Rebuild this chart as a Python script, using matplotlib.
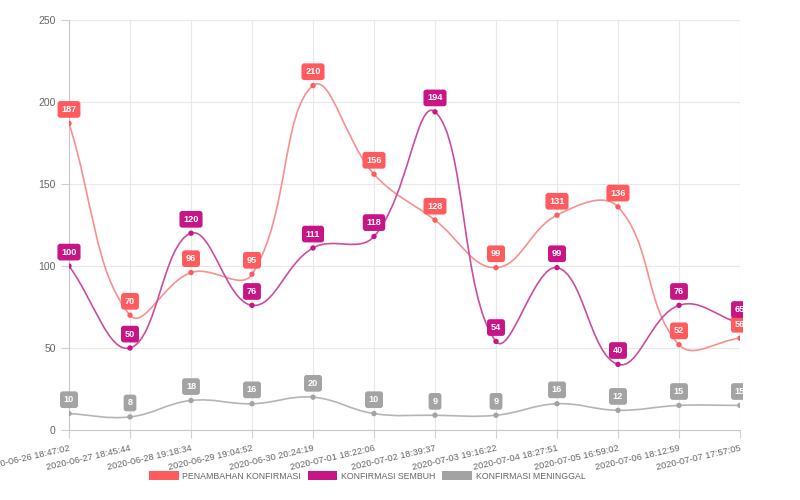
import numpy as np
import matplotlib
matplotlib.use("Agg")
import matplotlib.pyplot as plt
from matplotlib.path import Path
from matplotlib.patches import PathPatch, Patch, Rectangle

plt.rcParams['font.family'] = ['Liberation Sans', 'DejaVu Sans']

# Data
dates = ["2020-06-26 18:47:02", "2020-06-27 18:45:44", "2020-06-28 19:18:34",
         "2020-06-29 19:04:52", "2020-06-30 20:24:19", "2020-07-01 18:22:06",
         "2020-07-02 18:39:37", "2020-07-03 19:16:22", "2020-07-04 18:27:51",
         "2020-07-05 16:59:02", "2020-07-06 18:12:59", "2020-07-07 17:57:05"]
penambahan = [187, 70, 96, 95, 210, 156, 128, 99, 131, 136, 52, 56]
sembuh = [100, 50, 120, 76, 111, 118, 194, 54, 99, 40, 76, 65]
meninggal = [10, 8, 18, 16, 20, 10, 9, 9, 16, 12, 15, 15]

series = [
    ("PENAMBAHAN KONFIRMASI", penambahan, "#ff5a5e", "#f8908f"),
    ("KONFIRMASI SEMBUH", sembuh, "#c71585", "#cc4d9e"),
    ("KONFIRMASI MENINGGAL", meninggal, "#a3a3a3", "#b5b5b5"),
]

fig = plt.figure(figsize=(8, 5), dpi=100)
ax = fig.add_axes([69 / 800, 70 / 500, 671 / 800, 410 / 500])

x = np.arange(len(dates))
ax.set_xlim(0, len(dates) - 1)
ax.set_ylim(0, 250)

# pixel scale used for Chart.js-like spline tension
sx = 671 / (len(dates) - 1)
sy = 410 / 250


def spline_path(xs, ys, t=0.4):
    px = np.array(xs, float) * sx
    py = np.array(ys, float) * sy
    n = len(px)
    cps = []
    for i in range(n):
        p0 = (px[max(i - 1, 0)], py[max(i - 1, 0)])
        p1 = (px[i], py[i])
        p2 = (px[min(i + 1, n - 1)], py[min(i + 1, n - 1)])
        d01 = np.hypot(p1[0] - p0[0], p1[1] - p0[1])
        d12 = np.hypot(p2[0] - p1[0], p2[1] - p1[1])
        tot = d01 + d12
        s01 = d01 / tot if tot else 0
        s12 = d12 / tot if tot else 0
        fa, fb = t * s01, t * s12
        c1 = (p1[0] - fa * (p2[0] - p0[0]), p1[1] - fa * (p2[1] - p0[1]))
        c2 = (p1[0] + fb * (p2[0] - p0[0]), p1[1] + fb * (p2[1] - p0[1]))
        cps.append((c1, c2))
    verts = [(px[0], py[0])]
    codes = [Path.MOVETO]
    for i in range(1, n):
        a = cps[i - 1][1]
        b = cps[i][0]
        verts += [a, b, (px[i], py[i])]
        codes += [Path.CURVE4] * 3
    verts = [(vx / sx, min(max(vy, 0), 250 * sy) / sy) for vx, vy in verts]
    return Path(verts, codes)


for name, vals, col, lcol in series:
    ax.add_patch(PathPatch(spline_path(x, vals), fill=False, edgecolor=lcol, lw=1.2, zorder=3))
    ax.scatter(x, vals, s=15, color=col, zorder=4, edgecolors="none")

# clip labels only at the right edge (like the chart canvas)
clip = Rectangle((0, 0), 743 / 800, 1, transform=fig.transFigure, visible=False)
fig.add_artist(clip)

for name, vals, col, lcol in series:
    for xi, v in zip(x, vals):
        t = ax.annotate(str(v), (xi, v), xytext=(0, 10), textcoords="offset points",
                        ha="center", va="center", color="white", fontsize=6.6,
                        fontweight="bold", zorder=6, annotation_clip=False,
                        bbox=dict(boxstyle="round,pad=0.42,rounding_size=0.3",
                                  fc=col, ec="none"))
        t.set_clip_path(clip)
        t.get_bbox_patch().set_clip_path(clip)

ax.set_yticks([0, 50, 100, 150, 200, 250])
ax.set_xticks(x)
ax.set_xticklabels(dates, rotation=13, ha="right", rotation_mode="anchor")
ax.tick_params(axis="both", colors="#d0d0d0", labelcolor="#666666", labelsize=7.5, length=6)
ax.tick_params(axis="x", labelsize=6.7, pad=4)
ax.grid(True, color="#e8e8e8", lw=0.8)
ax.set_axisbelow(True)
for side in ["top", "right"]:
    ax.spines[side].set_visible(False)
for side in ["left", "bottom"]:
    ax.spines[side].set_color("#c8c8c8")

handles = [Patch(facecolor=c, edgecolor="none", label=n) for n, _, c, _ in series]
fig.legend(handles=handles, loc="center", bbox_to_anchor=(367 / 800, 24 / 500), ncol=3,
           frameon=False, fontsize=6.3, handlelength=3.4, handleheight=1.1,
           columnspacing=0.8, handletextpad=0.4, labelcolor="#666666")

fig.savefig("out.png", dpi=100)
